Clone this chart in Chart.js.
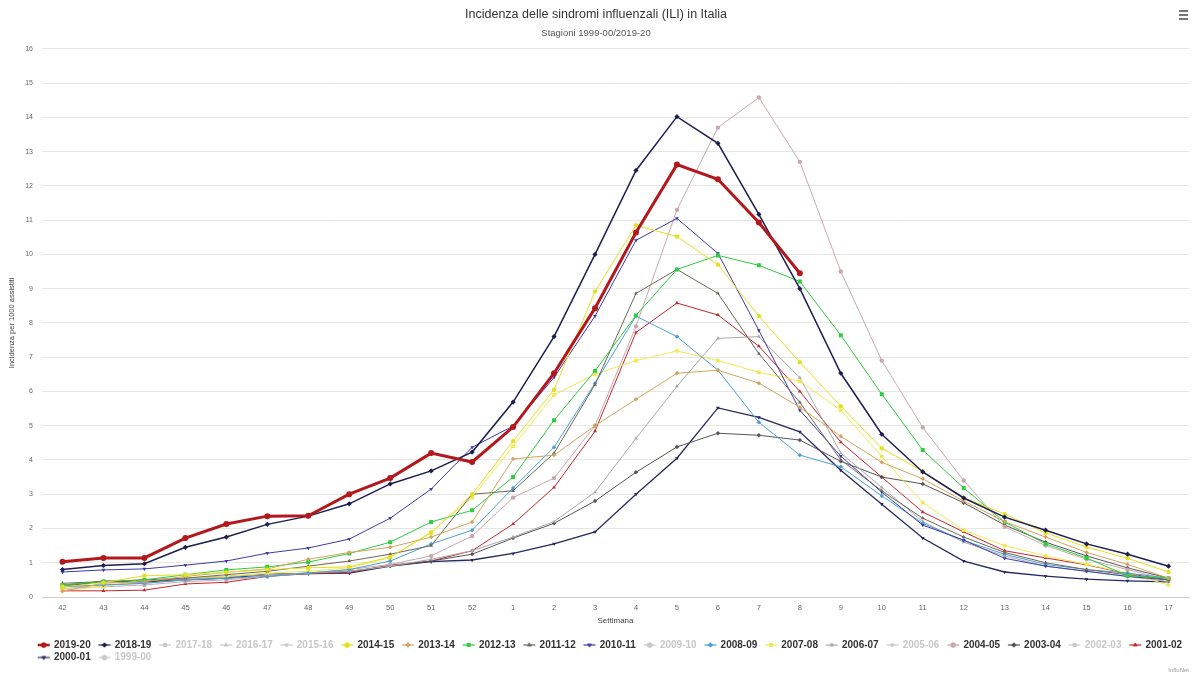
<!DOCTYPE html>
<html>
<head>
<meta charset="utf-8">
<script src="https://cdn.jsdelivr.net/npm/chart.js@4/dist/chart.umd.min.js"></script>
<style>
  html, body { margin: 0; padding: 0; background: #fff; }
  #wrap { width: 1192px; height: 676px; }
</style>
</head>
<body>
<div id="wrap"><canvas id="ili-chart" width="1192" height="676"></canvas></div>
<script>
const weeks = ['42','43','44','45','46','47','48','49','50','51','52','1','2','3','4','5','6','7','8','9','10','11','12','13','14','15','16','17'];

const s2019_20 = [1.03,1.14,1.14,1.72,2.13,2.36,2.37,3.0,3.47,4.2,3.94,4.96,6.53,8.43,10.64,12.62,12.19,10.93,9.45];
const s2018_19 = [0.8,0.92,0.97,1.45,1.75,2.12,2.36,2.72,3.3,3.68,4.23,5.69,7.6,10.0,12.45,14.02,13.24,11.17,9.0,6.53,4.75,3.65,2.89,2.33,1.95,1.55,1.25,0.9];
const s2014_15 = [0.3,0.42,0.62,0.65,0.72,0.8,0.85,0.88,1.17,1.87,3.0,4.55,6.05,8.92,10.85,10.52,9.7,8.2,6.85,5.57,4.34,3.67,2.9,2.42,1.87,1.46,1.13,0.73];
const s2013_14 = [0.17,0.4,0.45,0.6,0.72,0.82,1.1,1.3,1.45,1.75,2.19,4.03,4.14,5.0,5.77,6.53,6.62,6.24,5.54,4.69,3.93,3.45,2.8,2.2,1.75,1.3,0.95,0.55];
const s2012_13 = [0.35,0.45,0.5,0.65,0.79,0.88,1.02,1.27,1.6,2.19,2.53,3.5,5.16,6.6,8.22,9.56,9.97,9.68,9.21,7.64,5.92,4.29,3.18,2.19,1.55,1.14,0.62,0.55];
const s2011_12 = [0.4,0.45,0.5,0.55,0.65,0.75,0.9,1.05,1.25,1.5,3.0,3.1,4.2,6.2,8.86,9.56,8.86,7.1,5.68,4.0,3.1,2.3,1.75,1.3,1.0,0.8,0.65,0.5];
const s2010_11 = [0.73,0.79,0.82,0.93,1.05,1.28,1.43,1.69,2.3,3.15,4.37,4.99,6.41,8.2,10.41,11.05,10.03,7.78,5.45,4.11,3.06,2.1,1.66,1.13,0.9,0.75,0.6,0.5];
const s2008_09 = [0.3,0.35,0.4,0.5,0.55,0.6,0.7,0.8,1.05,1.55,1.95,3.18,4.37,6.24,8.2,7.6,6.62,5.1,4.14,3.8,2.95,2.15,1.65,1.25,0.95,0.8,0.7,0.55];
const s2007_08 = [0.2,0.3,0.5,0.55,0.6,0.7,0.75,0.85,1.15,1.9,2.9,4.4,5.9,6.5,6.9,7.18,6.9,6.56,6.3,5.45,4.1,2.75,1.95,1.5,1.2,0.95,0.7,0.35];
const s2006_07 = [0.3,0.35,0.4,0.5,0.6,0.65,0.7,0.75,0.9,1.1,1.35,1.75,2.2,3.06,4.63,6.15,7.55,7.6,6.4,4.2,3.2,2.2,1.6,1.2,0.9,0.75,0.6,0.45];
const s2004_05 = [0.25,0.3,0.35,0.45,0.5,0.6,0.7,0.8,0.95,1.2,1.78,2.9,3.47,5.0,7.9,11.3,13.7,14.58,12.7,9.5,6.9,4.95,3.4,2.05,1.5,1.1,0.8,0.5];
const s2003_04 = [0.35,0.45,0.45,0.55,0.6,0.65,0.7,0.75,0.9,1.05,1.25,1.72,2.15,2.8,3.64,4.38,4.78,4.72,4.58,3.96,3.5,3.3,2.75,2.1,1.6,1.2,0.85,0.55];
const s2001_02 = [0.18,0.18,0.2,0.38,0.43,0.6,0.68,0.72,0.93,1.05,1.35,2.13,3.2,4.84,7.72,8.58,8.23,7.32,6.0,4.52,3.5,2.48,1.9,1.35,1.14,0.94,0.68,0.5];
const s2000_01 = [0.3,0.46,0.44,0.5,0.55,0.66,0.68,0.7,0.9,1.03,1.08,1.27,1.55,1.9,3.0,4.05,5.52,5.24,4.82,3.7,2.71,1.72,1.05,0.73,0.61,0.52,0.47,0.44];

const yTicks = [0,1,2,3,4,5,6,7,8,9,10,11,12,13,14,15,16];

const FONT = "'Liberation Sans', Arial, sans-serif";
const HIDDEN_COLOR = '#c8c8c8';

// highcharts-like marker cycle
const markers = {
    circle: ['circle', 0],
    diamond: ['rectRot', 0],
    square: ['rect', 0],
    triangle: ['triangle', 0],
    tdown: ['triangle', 180]
};

function series(label, data, color, marker, extra) {
    const m = markers[marker];
    return Object.assign({
        label: label,
        data: data,
        borderColor: color,
        backgroundColor: color,
        borderWidth: 1,
        pointStyle: m[0],
        pointRotation: m[1],
        pointRadius: 2.2,
        pointBorderWidth: 0,
        pointHoverRadius: 3,
        tension: 0
    }, extra || {});
}

const datasets = [
    series('2019-20', s2019_20, '#b3191c', 'circle', { borderWidth: 3, pointRadius: 3 }),
    series('2018-19', s2018_19, '#1c1f4f', 'diamond', { borderWidth: 1.5, pointRadius: 2.6 }),
    series('2017-18', [], '#999', 'square', { hidden: true }),
    series('2016-17', [], '#999', 'triangle', { hidden: true }),
    series('2015-16', [], '#999', 'tdown', { hidden: true }),
    series('2014-15', s2014_15, '#e6df1e', 'circle'),
    series('2013-14', s2013_14, '#d6a35e', 'diamond'),
    series('2012-13', s2012_13, '#2ecc40', 'square', { pointRadius: 2.8 }),
    series('2011-12', s2011_12, '#6d6657', 'triangle'),
    series('2010-11', s2010_11, '#3b3ba3', 'tdown'),
    series('2009-10', [], '#999', 'circle', { hidden: true }),
    series('2008-09', s2008_09, '#4a9fd6', 'diamond'),
    series('2007-08', s2007_08, '#efea4f', 'square', { pointRadius: 2.6 }),
    series('2006-07', s2006_07, '#a9a9a9', 'triangle'),
    series('2005-06', [], '#999', 'tdown', { hidden: true }),
    series('2004-05', s2004_05, '#c9a8ab', 'circle'),
    series('2003-04', s2003_04, '#555555', 'diamond'),
    series('2002-03', [], '#999', 'square', { hidden: true }),
    series('2001-02', s2001_02, '#c2272d', 'triangle'),
    series('2000-01', s2000_01, '#26295f', 'tdown', { borderWidth: 1.3 }),
    series('1999-00', [], '#999', 'circle', { hidden: true })
];

// small canvas: line with the marker on it, used as legend symbol
function legendSymbol(ds, hidden) {
    const c = document.createElement('canvas');
    c.width = 26;
    c.height = 10;
    const ctx = c.getContext('2d');
    const col = hidden ? HIDDEN_COLOR : ds.borderColor;
    ctx.strokeStyle = col;
    ctx.fillStyle = col;
    ctx.lineWidth = ds.label === '2019-20' ? 2.5 : 1.2;
    ctx.beginPath();
    ctx.moveTo(10, 5);
    ctx.lineTo(22, 5);
    ctx.stroke();
    Chart.helpers.drawPoint(ctx, {
        pointStyle: ds.pointStyle,
        rotation: ds.pointRotation,
        radius: 2.6,
        borderWidth: 0
    }, 16, 5);
    ctx.fill();
    return c;
}

const legendShift = {
    id: 'legendShift',
    afterLayout(chart) {
        chart.legend.left = 30;
    }
};

const extras = {
    id: 'extras',
    afterDraw(chart) {
        const ctx = chart.ctx;
        ctx.save();
        // menu icon
        ctx.strokeStyle = '#555';
        ctx.lineWidth = 1.6;
        [11, 15, 19].forEach(y => {
            ctx.beginPath();
            ctx.moveTo(1179, y);
            ctx.lineTo(1188, y);
            ctx.stroke();
        });
        // credits
        ctx.fillStyle = '#999';
        ctx.font = '6px ' + FONT;
        ctx.textAlign = 'right';
        ctx.textBaseline = 'middle';
        ctx.fillText('InfluNet', 1189, 670);
        ctx.restore();
    }
};

const ctx = document.getElementById('ili-chart').getContext('2d');
const iliChart = new Chart(ctx, {
    type: 'line',
    data: { labels: weeks, datasets: datasets },
    options: {
        responsive: false,
        animation: false,
        layout: { padding: { left: 0, right: 0, top: 0, bottom: 3.5 } },
        plugins: {
            title: {
                display: true,
                text: 'Incidenza delle sindromi influenzali (ILI) in Italia',
                color: '#333',
                font: { family: FONT, size: 12.5, weight: 'normal' },
                padding: { top: 7.5, bottom: 5 }
            },
            subtitle: {
                display: true,
                text: 'Stagioni 1999-00/2019-20',
                color: '#555',
                font: { family: FONT, size: 9.5 },
                padding: { top: 0, bottom: 9.9 }
            },
            legend: {
                position: 'bottom',
                align: 'start',
                labels: {
                    usePointStyle: true,
                    pointStyleWidth: 16.5,
                    padding: 2.5,
                    font: { family: FONT, size: 10, weight: 'bold' },
                    generateLabels(chart) {
                        return chart.data.datasets.map((ds, i) => ({
                            text: ds.label,
                            datasetIndex: i,
                            hidden: false,
                            fontColor: ds.hidden ? HIDDEN_COLOR : '#333',
                            pointStyle: legendSymbol(ds, ds.hidden),
                            fillStyle: 'transparent',
                            strokeStyle: 'transparent',
                            lineWidth: 0
                        }));
                    }
                }
            },
            tooltip: { enabled: false }
        },
        scales: {
            x: {
                offset: true,
                afterFit(scale) {
                    scale.height = 40.5;
                },
                grid: { display: false, drawTicks: false },
                border: { display: true, color: '#d0d0d0', width: 1 },
                ticks: {
                    autoSkip: false,
                    maxRotation: 0,
                    padding: 6,
                    color: '#666',
                    font: { family: FONT, size: 7.5 }
                },
                title: {
                    display: true,
                    text: 'Settimana',
                    color: '#444',
                    font: { family: FONT, size: 8 },
                    padding: { top: 0, bottom: 11.7 }
                }
            },
            y: {
                min: 0,
                max: 16,
                afterBuildTicks(scale) {
                    scale.ticks = yTicks.map(v => ({ value: v }));
                },
                afterFit(scale) {
                    scale.width = 42;
                },
                grid: { color: '#e6e6e6', lineWidth: 1, drawTicks: false },
                border: { display: false },
                ticks: {
                    padding: 9,
                    color: '#666',
                    font: { family: FONT, size: 7 }
                },
                title: {
                    display: true,
                    text: 'Incidenza per 1000 assistiti',
                    color: '#444',
                    font: { family: FONT, size: 7.5 },
                    padding: { top: 7.5, bottom: 4 }
                }
            }
        }
    },
    plugins: [legendShift, extras]
});
</script>
</body>
</html>
